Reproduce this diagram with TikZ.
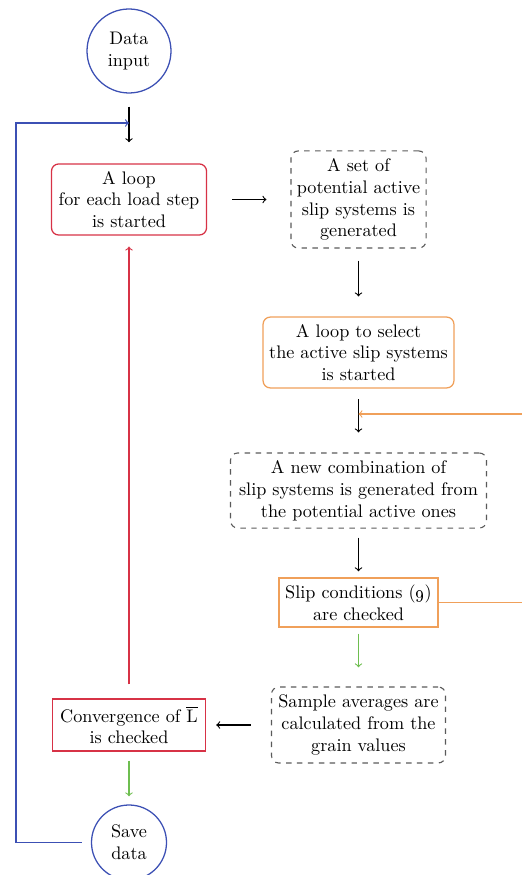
\documentclass[tikz,border=0pt]{standalone}
\usepackage{amsmath,amssymb}
\usetikzlibrary{positioning}
\definecolor{termblue}{RGB}{60,80,180}
\definecolor{loopred}{RGB}{215,50,70}
\definecolor{selorange}{RGB}{240,160,90}
\definecolor{okgreen}{RGB}{110,190,80}
\definecolor{dashgray}{RGB}{90,90,90}

\begin{document}
\begin{tikzpicture}[x=0.55pt,y=-0.55pt
        , every node/.style={align=center, inner sep=0pt}
        , terminal/.style={circle, draw=termblue, line width=0.7pt}
        , redloop/.style={draw=loopred, line width=0.7pt}
        , orangeloop/.style={draw=selorange, line width=0.7pt}
        , taskbox/.style={draw=dashgray, dashed, rounded corners=4pt, line width=0.6pt}
        , flow/.style={->, line width=0.6pt}
        ]
        \useasboundingbox (0,0) rectangle (521,875);

        \node[terminal, minimum size=46.2pt] (in) at (129,51) {Data\\input};
        \node[redloop, rounded corners=4pt
        , minimum width=85.3pt
        , minimum height=39.1pt
        ] (loop) at (129,199.5) {A loop\\for each load step\\is started};
        \node[taskbox
        , minimum width=74.3pt
        , minimum height=53.4pt
        ] (set) at (358.5,199.5) {A set of\\potential active\\slip systems is\\generated};
        \node[orangeloop, rounded corners=4pt
        , minimum width=105pt
        , minimum height=39pt
        ] (select) at (358.5,352.5) {A loop to select\\the active slip systems\\is started};
        \node[taskbox
        , minimum width=140.8pt
        , minimum height=41.3pt
        ] (combo) at (358.5,490.5) {A new combination of\\slip systems is generated from\\the potential active ones};
        \node[orangeloop
        , minimum width=87.5pt
        , minimum height=27pt
        ] (slip) at (358.5,602.5) {Slip conditions (\oldstylenums{9})\\are checked};
        \node[taskbox
        , minimum width=95.7pt
        , minimum height=41.8pt
        ] (avg) at (358.5,725) {Sample averages are\\calculated from the\\grain values};
        \node[redloop
        , minimum width=84.2pt
        , minimum height=28.6pt
        ] (conv) at (129,725) {Convergence of $\overline{\mathrm{L}}$\\is checked};
        \node[terminal, minimum size=41.25pt] (save) at (129,842.5) {Save\\data};

        \coordinate (join) at (129,123);
        \coordinate (backin) at (530,414);
        \coordinate (backout) at (530,602);

        \draw [flow, shorten <=7.2pt, shorten >=11.6pt] (in) -- (loop);
        \draw [flow, shorten <=13.8pt, shorten >=13.2pt] (loop) -- (set);
        \draw [flow, shorten <=6.6pt, shorten >=11pt] (set) -- (select);
        \draw [flow, shorten <=6pt, shorten >=11pt] (select) -- (combo);
        \draw [flow, shorten <=5pt, shorten >=3.3pt] (combo) -- (slip);
        \draw [flow, okgreen, shorten <=3.3pt, shorten >=10.5pt] (slip) -- (avg);
        \draw [flow, shorten <=11pt, shorten >=5.5pt] (avg) -- (conv);
        \draw [flow, okgreen, shorten <=5pt, shorten >=4.4pt] (conv) -- (save);
        \draw [flow, loopred, shorten <=7.7pt, shorten >=6pt] (conv) -- (loop);
        \draw [flow, termblue, shorten <=5pt] (save.west) -| (16,123) -- (join);
        \draw [flow, selorange] (backin) -- (backin -| select);
        \draw [line width=0.6pt, selorange] (slip.east) -- (slip.east -| backout);
\end{tikzpicture}
\end{document}
